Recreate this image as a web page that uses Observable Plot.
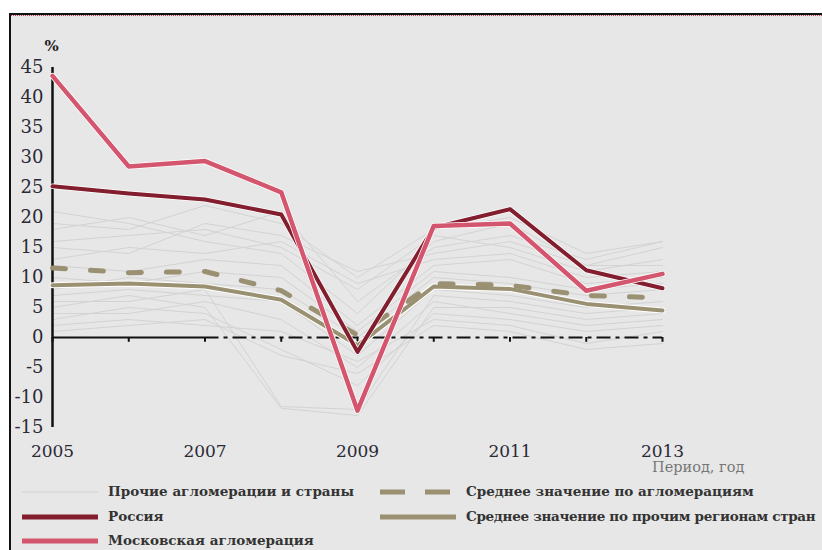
<!DOCTYPE html>
<html><head><meta charset="utf-8">
<script src="https://cdn.jsdelivr.net/npm/d3@7"></script>
<script src="https://cdn.jsdelivr.net/npm/@observablehq/plot@0.6"></script>
<style>
html,body{margin:0;padding:0;background:#fff;width:822px;height:550px;overflow:hidden;}
#frame{position:absolute;left:9px;top:13px;width:813px;height:537px;border-left:2px solid #111;border-top:2px solid #111;background:#e7e7e7;overflow:hidden;}
#dots{position:absolute;left:0;top:0;width:100%;border-top:1.5px dotted #d0405a;}
#chart{position:absolute;left:0;top:0;}
.lg{position:absolute;font-family:"DejaVu Serif",serif;font-weight:bold;font-size:13.5px;color:#333;white-space:nowrap;line-height:16px;}
.sw{position:absolute;}
#xl{position:absolute;font-family:"DejaVu Serif",serif;font-size:14.5px;color:#777;white-space:nowrap;}
</style></head>
<body>
<div id="frame"><div id="dots"></div><div id="chart"></div>
<div id="xl"></div>
<div id="legend"></div>
</div>
<script>
const years = [2005, 2006, 2007, 2008, 2009, 2010, 2011, 2012, 2013];
const xLabels = [2005, 2007, 2009, 2011, 2013];
const yTicks = [-15, -10, -5, 0, 5, 10, 15, 20, 25, 30, 35, 40, 45];

const moscow = [43.6, 28.5, 29.4, 24.2, -12.2, 18.6, 19.0, 7.8, 10.6];
const russia = [25.2, 24.0, 23.0, 20.5, -2.4, 18.3, 21.4, 11.2, 8.2];
const avgAgglo = [11.6, 10.8, 11.0, 7.8, 0.4, 9.0, 8.7, 7.0, 6.6];
const avgRegions = [8.7, 9.0, 8.5, 6.3, -1.3, 8.5, 8.1, 5.6, 4.5];

const others = [
  [21, 19, 16, 14, 4, 16, 19, 12, 15],
  [18, 20, 17, 21, 6, 15, 17, 13, 16],
  [16, 17, 18, 15, 8, 17, 15, 11, 13],
  [15, 14, 19, 17, 11, 14, 16, 12, 12],
  [13, 15, 14, 16, 9, 13, 14, 10, 11],
  [12, 11, 13, 12, 2, 12, 13, 9, 10],
  [10, 9, 11, 10, 1, 11, 10, 8, 9],
  [8, 10, 9, 8, 0, 10, 9, 7, 8],
  [7, 8, 7, 6, -3, 8, 7, 5, 6],
  [6, 6, 8, -11.5, -12, 7, 6, 4, 5],
  [5, 7, 5, -11.8, -13, 5, 5, 3, 4],
  [4, 4, 6, 3, -5, 6, 4, 2, 3],
  [3, 5, 4, -2, -8, 4, 3, 1, 2],
  [2, 3, 2, 1, -4, 3, 2, -1, 1],
  [1, 2, 3, -3, -6, 2, 1, -2, -1],
  [19, 18, 22, 19, 10, 18, 20, 14, 16]
];

const legendItems = ["Прочие агломерации и страны", "Россия", "Московская агломерация",
  "Среднее значение по агломерациям", "Среднее значение по прочим регионам стран"];
const xTitle = "Период, год";
const yUnit = "%";

const colors = {moscow: "#d4566e", russia: "#821e2d", tan: "#9a9072", other: "#d3d3d3"};

const toRows = (vals, name) => vals.map((v, i) => ({year: years[i], value: v, series: name}));
const otherRows = others.flatMap((s, k) => toRows(s, "o" + k));
const moscowRows = toRows(moscow, "moscow");
const russiaRows = toRows(russia, "russia");
const aggloRows = toRows(avgAgglo, "agglo");
const regRows = toRows(avgRegions, "regions");

const chart = Plot.plot({
  width: 711, height: 457,
  marginLeft: 41, marginRight: 60, marginTop: 52, marginBottom: 45,
  style: {fontFamily: "DejaVu Serif, serif", fontSize: "17px", color: "#2a2a36", background: "transparent", overflow: "visible"},
  x: {domain: [2005, 2013]},
  y: {domain: [-15, 45]},
  marks: [
    Plot.line(otherRows, {x: "year", y: "value", z: "series", stroke: colors.other, strokeWidth: 1}),
    Plot.ruleY([0], {x1: 2005, x2: 2007, stroke: "#111", strokeWidth: 2}),
    Plot.ruleY([0], {x1: 2007, x2: 2013, stroke: "#111", strokeWidth: 2, strokeDasharray: "14,5,4,5"}),
    Plot.ruleX(years, {x: d => d, y1: 0, y2: -0.8, stroke: "#111", strokeWidth: 2}),
    Plot.ruleX([2005], {x: d => d, y1: -15, y2: 45, stroke: "#111", strokeWidth: 2.5}),
    Plot.line(regRows, {x: "year", y: "value", stroke: "white", strokeWidth: 6}),
    Plot.line(regRows, {x: "year", y: "value", stroke: colors.tan, strokeWidth: 4}),
    Plot.line(aggloRows, {x: "year", y: "value", stroke: colors.tan, strokeWidth: 5, strokeDasharray: "13,25"}),
    Plot.line(russiaRows, {x: "year", y: "value", stroke: "white", strokeWidth: 5.5}),
    Plot.line(russiaRows, {x: "year", y: "value", stroke: colors.russia, strokeWidth: 4}),
    Plot.line(moscowRows, {x: "year", y: "value", stroke: "white", strokeWidth: 6}),
    Plot.line(moscowRows, {x: "year", y: "value", stroke: colors.moscow, strokeWidth: 4.5}),
    Plot.axisY({ticks: yTicks, tickFormat: d => String(d), tickSize: 0, tickPadding: 9, fontSize: 18, label: null}),
    Plot.axisX({ticks: xLabels, tickFormat: d => String(d), tickSize: 0, tickPadding: 17, label: null}),
    Plot.text([yUnit], {text: d => d, frameAnchor: "top-left", dy: -27, dx: -8, fontWeight: "bold", fontSize: 15, fill: "#222"})
  ]
});
document.getElementById("chart").appendChild(chart);

const xl = document.getElementById("xl");
xl.textContent = xTitle;
xl.style.left = "641px"; xl.style.top = "444px";

const legend = document.getElementById("legend");
const entries = [
  {text: legendItems[0], x: 11, y: 477, stroke: "#d9d9d9", w: 1.5, dash: null, ls: 0},
  {text: legendItems[1], x: 11, y: 502, stroke: colors.russia, w: 5, dash: null, ls: 0},
  {text: legendItems[2], x: 11, y: 526, stroke: colors.moscow, w: 5, dash: null, ls: 0},
  {text: legendItems[3], x: 369, y: 477, stroke: colors.tan, w: 5, dash: "25,20", ls: 0},
  {text: legendItems[4], x: 369, y: 502, stroke: colors.tan, w: 5, dash: null, ls: -0.3}
];
for (const e of entries) {
  const sw = document.createElementNS("http://www.w3.org/2000/svg", "svg");
  sw.setAttribute("width", 76); sw.setAttribute("height", 10);
  sw.setAttribute("class", "sw");
  sw.style.left = e.x + "px"; sw.style.top = (e.y - 5) + "px";
  const ln = document.createElementNS("http://www.w3.org/2000/svg", "line");
  ln.setAttribute("x1", 0); ln.setAttribute("x2", 76);
  ln.setAttribute("y1", 5); ln.setAttribute("y2", 5);
  ln.setAttribute("stroke", e.stroke); ln.setAttribute("stroke-width", e.w);
  if (e.dash) ln.setAttribute("stroke-dasharray", e.dash);
  sw.appendChild(ln);
  legend.appendChild(sw);
  const t = document.createElement("div");
  t.className = "lg"; t.textContent = e.text;
  t.style.letterSpacing = e.ls + "px";
  t.style.left = (e.x + 86) + "px"; t.style.top = (e.y - 9) + "px";
  legend.appendChild(t);
}
</script>
</body></html>
